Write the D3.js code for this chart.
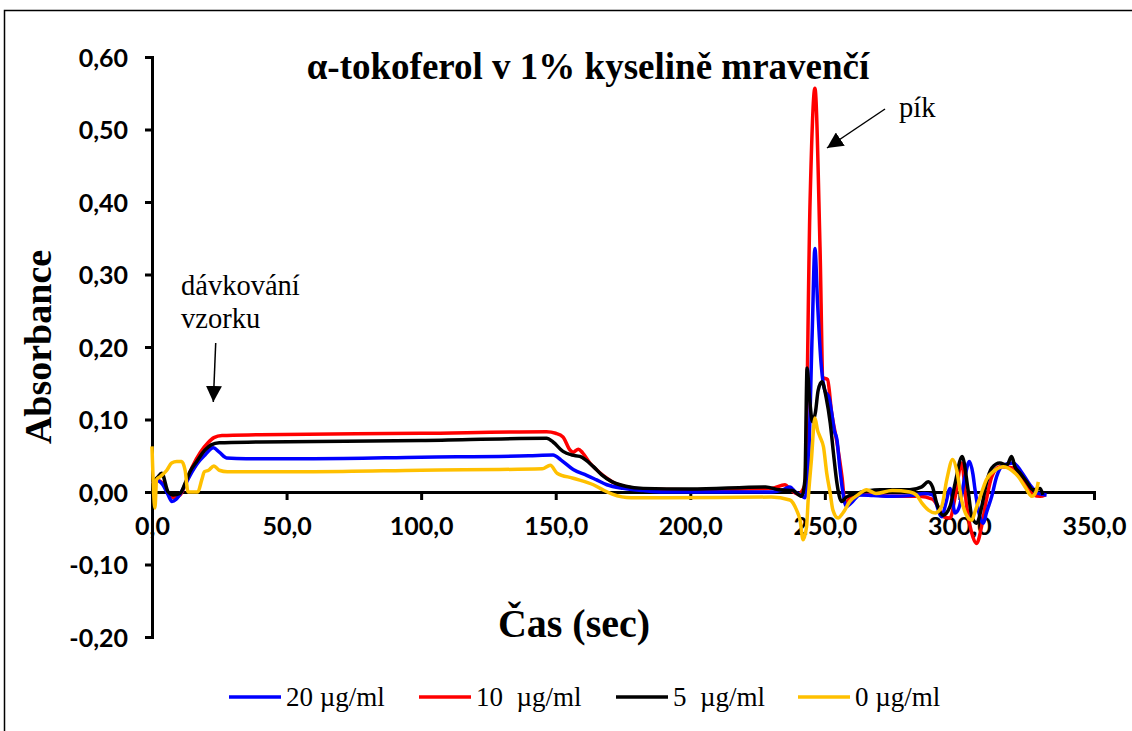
<!DOCTYPE html>
<html>
<head>
<meta charset="utf-8">
<script src="https://cdn.jsdelivr.net/npm/d3@7"></script>
<style>
  body { margin: 0; background: #fff; }
  svg { display: block; }
  .tick text { font-family: Lato, "Liberation Sans", sans-serif; font-weight: bold; font-size: 25px; fill: #000; }
</style>
</head>
<body>
<script>
// time (sec) / absorbance pairs
var s20 = [[0,0.012],[2,0.016],[4,0.010],[6,-0.004],[7.4,-0.013],[9,-0.010],[11.5,0.004],[14,0.022],[17,0.040],[19.7,0.051],[22.8,0.061],[25,0.055],[27.7,0.047],[35,0.046],[60,0.046],[100,0.048],[140,0.050],[149,0.051],[152,0.044],[156.5,0.031],[161.5,0.023],[165,0.017],[169,0.010],[175,0.005],[182.5,0.002],[190,0.000],[210,0.000],[230,0.000],[235,0.004],[237,0.007],[239,0.000],[241,-0.004],[242.6,-0.008],[244,0.05],[245.3,0.22],[246.3,0.336],[247.3,0.26],[248.5,0.182],[250,0.14],[251.5,0.131],[252.5,0.11],[253.5,0.085],[254.5,0.072],[255.5,0.035],[256.4,0.007],[258,-0.020],[259.8,-0.015],[263,-0.004],[268,-0.005],[275,-0.006],[282,-0.005],[287,-0.002],[290,-0.004],[293.4,-0.034],[295,-0.015],[296.5,0.005],[298.4,-0.029],[300,-0.02],[302,0.02],[303.7,0.042],[305,0.025],[305.8,0.003],[307.6,-0.034],[308.9,-0.043],[310,-0.029],[312,-0.006],[313.8,0.021],[316.3,0.037],[320,0.040],[323,0.028],[326.2,0.010],[329.3,-0.002],[332.4,-0.004]];

var s10 = [[0,0.012],[2,0.016],[4,0.012],[6,-0.002],[8.5,-0.008],[10.5,-0.004],[12.5,0.012],[15,0.035],[18,0.055],[20.8,0.068],[23,0.075],[26,0.078],[40,0.079],[100,0.081],[146.6,0.083],[150,0.081],[152.7,0.076],[155.3,0.058],[156.5,0.055],[158.4,0.059],[160,0.054],[162.7,0.040],[166,0.028],[169,0.019],[172,0.012],[176.5,0.007],[182,0.004],[200,0.003],[230,0.005],[235.2,0.010],[237,0.004],[240,-0.003],[242.6,0.01],[244.5,0.40],[246.3,0.557],[248.2,0.338],[249.3,0.158],[251,0.155],[252.5,0.11],[254.5,0.068],[256.4,0.02],[257.5,-0.015],[260,-0.006],[265,-0.003],[275,-0.006],[285,-0.006],[290,-0.010],[292,-0.020],[294,-0.034],[296.5,-0.036],[298.5,-0.005],[300.8,0.040],[302.7,-0.020],[305,-0.062],[306.4,-0.071],[308.2,-0.048],[310,-0.011],[312,0.021],[315,0.035],[320,0.033],[323.6,0.017],[327.4,-0.004],[330,-0.006],[332,-0.004]];

var s5 = [[0,0.013],[2,0.020],[3.6,0.026],[6,0.0],[7.8,-0.004],[10.4,-0.002],[12.3,0.012],[14.1,0.028],[16.6,0.042],[19.7,0.058],[22,0.065],[25,0.068],[40,0.069],[100,0.071],[146.6,0.074],[149,0.069],[152.7,0.056],[156,0.051],[159,0.049],[164,0.035],[167,0.024],[171,0.014],[176,0.008],[182.5,0.005],[200,0.004],[228,0.007],[233,0.003],[238,0.002],[241.4,-0.006],[242.6,0.017],[243.4,0.171],[244.3,0.13],[245.4,0.097],[246.5,0.11],[247.5,0.14],[248.9,0.152],[250.5,0.13],[252,0.095],[253.3,0.05],[254.5,0.012],[256.2,-0.013],[258,-0.007],[261.8,-0.002],[270.5,0.003],[281.6,0.003],[286,0.007],[288.4,0.014],[290,0.007],[291.5,-0.015],[293.9,-0.032],[296.5,-0.020],[298.4,0.012],[301,0.049],[303.2,0.003],[304.6,-0.034],[306.4,-0.043],[308.3,-0.020],[310,0.012],[312,0.033],[315,0.040],[317.6,0.037],[319.4,0.049],[320.6,0.035],[322.5,0.026],[325,0.014],[327.4,0.003],[330,0.005],[331,-0.004]];

var s0 = [[0,0.063],[1.1,-0.022],[1.7,0.017],[3,0.021],[5.5,0.030],[7.3,0.040],[9.2,0.042],[11,0.042],[12.3,0.030],[13.4,0.0],[17,0.0],[18.5,0.017],[19.5,0.028],[21,0.030],[23,0.036],[25,0.030],[28,0.028],[60,0.028],[100,0.030],[145,0.032],[148,0.037],[150.5,0.026],[156.5,0.019],[164,0.010],[168,0.002],[171,-0.003],[178,-0.008],[190,-0.008],[230,-0.007],[237,-0.011],[239.5,-0.025],[240.8,-0.039],[241.9,-0.066],[243.2,-0.048],[243.8,-0.011],[245,0.044],[246.3,0.102],[247.3,0.085],[248.2,0.076],[249.5,0.062],[250.7,0.026],[252,-0.002],[253,-0.025],[254.9,-0.036],[256.7,-0.029],[259.3,-0.013],[262.3,-0.004],[265.5,0.003],[269,-0.002],[275,0.002],[281.6,0.0],[284,-0.004],[286,-0.015],[288.5,-0.025],[291,-0.029],[293.4,-0.020],[295.3,0.017],[297.5,0.045],[299,0.030],[300.8,-0.011],[303.3,-0.036],[304.6,-0.039],[305.8,-0.027],[307.6,-0.008],[310,0.017],[313.2,0.030],[316.3,0.035],[319.4,0.030],[321.9,0.021],[324.4,0.007],[326.9,-0.006],[328.4,0.0],[329.3,0.014]];

var seriesNames = ["20 µg/ml", "10  µg/ml", "5  µg/ml", "0 µg/ml"];
var seriesColors = ["#0000ff", "#ff0000", "#000000", "#ffc000"];
var seriesData = [s20, s10, s5, s0];
var drawOrder = [1, 0, 2, 3];

var xTicks = [0, 50, 100, 150, 200, 250, 300, 350];
var yTicks = [-0.2, -0.1, 0, 0.1, 0.2, 0.3, 0.4, 0.5, 0.6];

var W = 1132, H = 731;
var serif = "'Liberation Serif', 'Times New Roman', serif";
var svg = d3.select("body").append("svg").attr("width", W).attr("height", H);

var fmt = function(d, dec) { return d.toFixed(dec).replace(".", ","); };

// chart frame
svg.append("rect")
    .attr("x", 4.5).attr("y", 10.5)
    .attr("width", W + 10).attr("height", H + 10)
    .attr("fill", "none").attr("stroke", "#000").attr("stroke-width", 1.5);

var x = d3.scaleLinear().domain([0, 350]).range([152, 1094]);
var y = d3.scaleLinear().domain([-0.2, 0.6]).range([637, 57]);

// y axis
var yAxis = svg.append("g")
    .attr("transform", "translate(" + x(0) + ",0)")
    .call(d3.axisLeft(y).tickValues(yTicks).tickSize(7).tickPadding(17)
        .tickFormat(function(d) { return fmt(d, 2); }));
yAxis.select(".domain").attr("stroke-width", 3);
yAxis.selectAll(".tick line").attr("stroke-width", 3);
yAxis.selectAll(".tick text").attr("dy", "0.36em");

// x axis at zero
var xAxis = svg.append("g")
    .attr("transform", "translate(0," + y(0) + ")")
    .call(d3.axisBottom(x).tickValues(xTicks).tickSize(8).tickPadding(17)
        .tickFormat(function(d) { return fmt(d, 1); }));
xAxis.select(".domain").attr("stroke-width", 3);
xAxis.selectAll(".tick line").attr("stroke-width", 3);

// series
var line = d3.line()
    .x(function(d) { return x(d[0]); })
    .y(function(d) { return y(d[1]); })
    .curve(d3.curveMonotoneX);

drawOrder.forEach(function(i) {
    svg.append("path")
        .datum(seriesData[i])
        .attr("d", line)
        .attr("fill", "none")
        .attr("stroke", seriesColors[i])
        .attr("stroke-width", 3.5)
        .attr("stroke-linejoin", "round");
});

// titles
svg.append("text")
    .attr("x", 588).attr("y", 79)
    .attr("text-anchor", "middle")
    .style("font-family", serif)
    .style("font-weight", "bold").style("font-size", "37px")
    .text("α-tokoferol v 1% kyselině mravenčí");

svg.append("text")
    .attr("transform", "translate(51,347) rotate(-90)")
    .attr("text-anchor", "middle")
    .style("font-family", serif)
    .style("font-weight", "bold").style("font-size", "38px")
    .text("Absorbance");

svg.append("text")
    .attr("x", 574).attr("y", 637)
    .attr("text-anchor", "middle")
    .style("font-family", serif)
    .style("font-weight", "bold").style("font-size", "40px")
    .text("Čas (sec)");

// annotations
var defs = svg.append("defs");
defs.append("marker")
    .attr("id", "arr")
    .attr("viewBox", "0 0 10 10")
    .attr("refX", 10).attr("refY", 5)
    .attr("markerWidth", 16).attr("markerHeight", 16)
    .attr("markerUnits", "userSpaceOnUse")
    .attr("orient", "auto")
    .append("path").attr("d", "M0,0 L10,5 L0,10 Z").attr("fill", "#000");

function note(lines, x0, y0) {
    var t = svg.append("text")
        .style("font-family", serif)
        .style("font-size", "28.5px");
    lines.forEach(function(s, k) {
        t.append("tspan").attr("x", x0).attr("y", y0 + k * 33).text(s);
    });
}
note(["dávkování", "vzorku"], 181, 295);
note(["pík"], 899, 117);

svg.append("line")
    .attr("x1", 215.7).attr("y1", 343).attr("x2", 213.3).attr("y2", 402)
    .attr("stroke", "#000").attr("stroke-width", 1.5)
    .attr("marker-end", "url(#arr)");
svg.append("line")
    .attr("x1", 885).attr("y1", 109).attr("x2", 827).attr("y2", 148)
    .attr("stroke", "#000").attr("stroke-width", 1.5)
    .attr("marker-end", "url(#arr)");

// legend
var legX = [229, 419, 616, 798];
seriesNames.forEach(function(name, i) {
    var g = svg.append("g").attr("transform", "translate(" + legX[i] + ",697)");
    g.append("line").attr("x1", 0).attr("x2", 52)
        .attr("stroke", seriesColors[i]).attr("stroke-width", 3.5);
    g.append("text").attr("x", 57).attr("dy", "0.33em")
        .style("font-family", serif)
        .style("font-size", "27px")
        .style("white-space", "pre")
        .attr("xml:space", "preserve")
        .text(name);
});
</script>
</body>
</html>
